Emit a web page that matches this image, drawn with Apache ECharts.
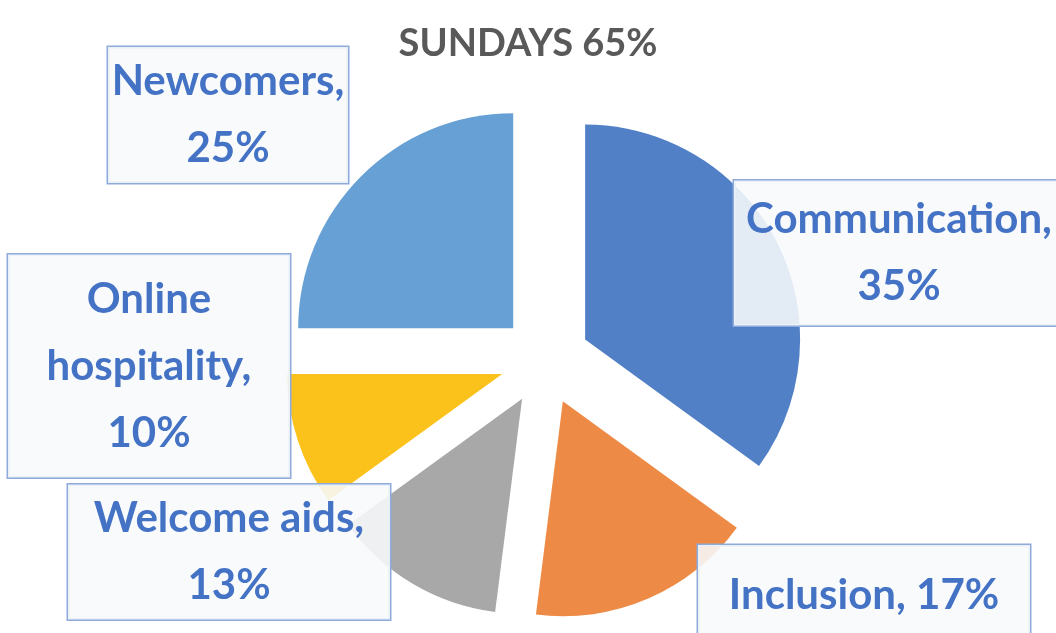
<!DOCTYPE html>
<html>
<head>
<meta charset="utf-8">
<script src="https://cdn.jsdelivr.net/npm/echarts@6/dist/echarts.min.js"></script>
<style>
  html, body { margin: 0; padding: 0; background: #fff; }
  #chart { width: 1056px; height: 633px; }
</style>
</head>
<body>
<div id="chart"></div>
<script>
const titleText = 'SUNDAYS 65%'
const categories = ['Communication', 'Inclusion', 'Welcome aids', 'Online hospitality', 'Newcomers']
const shares = [35, 17, 13, 10, 25]
const labelTexts = ['Communication,\n35%', 'Inclusion, 17%', 'Welcome aids,\n13%', 'Online\nhospitality,\n10%', 'Newcomers,\n25%']

const colors = ['#5280c6', '#ed8a45', '#a8a8a8', '#fbc21c', '#66a0d4']
// label box centre x, y, width, height
const boxes = [
  [899, 253, 330, 145],
  [864, 595, 332, 100],
  [229, 552, 322, 135],
  [149, 366, 282, 223],
  [228, 115, 240, 136]
]

const chart = echarts.init(document.getElementById('chart'))

const data = categories.map((name, i) => ({
  name: name,
  value: shares[i],
  selected: true,
  itemStyle: { color: colors[i] }
}))

// boxed data labels, placed like the callouts of the original
const labelBoxes = labelTexts.map((txt, i) => ({
  type: 'text',
  x: boxes[i][0],
  y: boxes[i][1],
  z: 100,
  style: {
    text: txt,
    fontFamily: 'Lato',
    fontSize: 42,
    fontWeight: 'bold',
    lineHeight: 67,
    fill: '#4472c4',
    align: 'center',
    verticalAlign: 'middle',
    width: boxes[i][2],
    height: boxes[i][3],
    backgroundColor: 'rgba(247,249,252,0.88)',
    borderColor: '#8eaadb',
    borderWidth: 1.5,
    boxShadowBlur: 4,
    boxShadowColor: 'rgba(0,0,0,0.15)',
    boxShadowOffsetX: 2,
    boxShadowOffsetY: 2
  }
}))

chart.setOption({
  title: {
    text: titleText,
    left: 'center',
    top: 20,
    textStyle: {
      fontFamily: 'Lato',
      fontSize: 38,
      fontWeight: 'bold',
      color: '#595959'
    }
  },
  graphic: labelBoxes,
  series: [
    {
      type: 'pie',
      center: [545, 360],
      radius: 215,
      startAngle: 90,
      clockwise: true,
      selectedMode: 'multiple',
      selectedOffset: 45,
      animation: false,
      label: { show: false },
      labelLine: { show: false },
      emphasis: { disabled: true },
      data: data
    }
  ]
})
</script>
</body>
</html>
